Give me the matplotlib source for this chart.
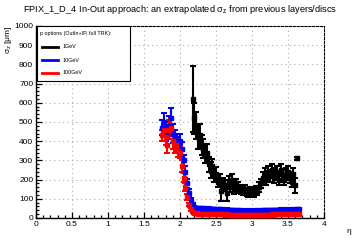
import numpy as np
import matplotlib
matplotlib.use("Agg")
import matplotlib.pyplot as plt
from matplotlib.patches import Rectangle
from matplotlib.lines import Line2D

plt.rcParams['font.family'] = ['Liberation Sans', 'DejaVu Sans']
plt.rcParams['mathtext.fontset'] = 'custom'
plt.rcParams['mathtext.rm'] = 'Liberation Sans'
plt.rcParams['mathtext.it'] = 'Liberation Sans'

# eta bin centres
eta = [1.750, 1.775, 1.800, 1.825, 1.850, 1.875, 1.900, 1.925, 1.950, 1.975,
       2.000, 2.025, 2.050, 2.075, 2.100, 2.125, 2.150, 2.175, 2.200, 2.225,
       2.250, 2.275, 2.300, 2.325, 2.350, 2.375, 2.400, 2.425, 2.450, 2.475,
       2.500, 2.525, 2.550, 2.575, 2.600, 2.625, 2.650, 2.675, 2.700, 2.725,
       2.750, 2.775, 2.800, 2.825, 2.850, 2.875, 2.900, 2.925, 2.950, 2.975,
       3.000, 3.025, 3.050, 3.075, 3.100, 3.125, 3.150, 3.175, 3.200, 3.225,
       3.250, 3.275, 3.300, 3.325, 3.350, 3.375, 3.400, 3.425, 3.450, 3.475,
       3.500, 3.525, 3.550, 3.575, 3.600, 3.625, 3.650]

# 1 GeV (starts at eta=2.175, ends at 3.625)
sig_1 = [620, 520, 480, 420, 430, 380, 360, 330, 340, 280,
         250, 270, 220, 230, 190, 200, 140, 180, 170, 130,
         190, 160, 200, 150, 180, 160, 150, 145, 140, 150,
         135, 130, 140, 135, 130, 145, 140, 160, 180, 210,
         230, 200, 240, 220, 250, 210, 230, 240, 200, 250,
         220, 200, 230, 240, 210, 190, 230, 170, 310]
err_1 = [170, 80, 70, 60, 60, 50, 50, 45, 45, 40,
         40, 35, 35, 35, 30, 30, 50, 30, 30, 40,
         30, 25, 30, 25, 25, 25, 20, 20, 20, 20,
         20, 20, 20, 20, 20, 20, 20, 25, 25, 30,
         30, 30, 30, 30, 30, 30, 30, 30, 30, 30,
         30, 30, 30, 30, 30, 30, 30, 40, 10]

# 10 GeV
sig_10 = [470, 500, 450, 420, 480, 520, 440, 420, 400, 380,
          400, 360, 300, 240, 180, 130, 90, 65, 55, 50,
          52, 50, 48, 50, 49, 47, 48, 46, 47, 45,
          46, 44, 45, 43, 44, 42, 43, 41, 42, 40,
          41, 39, 40, 38, 39, 38, 37, 38, 37, 38,
          37, 38, 38, 39, 38, 39, 40, 39, 40, 41,
          40, 41, 42, 41, 42, 42, 43, 42, 43, 42,
          43, 42, 43, 44, 44, 45, 46]
err_10 = [40, 45, 50, 40, 50, 55, 50, 40, 40, 40,
          40, 35, 30, 30, 25, 20, 15, 12, 10, 8,
          7, 7, 7, 7, 7, 7, 7, 7, 7, 7,
          7, 7, 7, 7, 7, 7, 7, 7, 7, 7,
          7, 7, 7, 7, 7, 7, 7, 7, 7, 7,
          7, 7, 7, 7, 7, 7, 7, 7, 7, 7,
          7, 7, 7, 7, 7, 7, 7, 7, 7, 7,
          7, 7, 7, 7, 7, 8, 8]

# 100 GeV
sig_100 = [430, 460, 420, 380, 460, 470, 400, 370, 380, 350,
           340, 270, 210, 160, 110, 70, 45, 32, 26, 24,
           23, 22, 23, 22, 21, 22, 21, 20, 21, 20,
           20, 19, 20, 19, 19, 18, 19, 18, 18, 18,
           17, 18, 17, 17, 18, 17, 17, 17, 16, 17,
           17, 16, 17, 17, 17, 18, 17, 18, 18, 18,
           18, 19, 18, 19, 19, 19, 20, 19, 20, 20,
           20, 20, 21, 20, 21, 21, 22]
err_100 = [30, 40, 40, 40, 50, 45, 40, 30, 30, 30,
           30, 30, 25, 20, 15, 10, 7, 6, 5, 5,
           5, 5, 5, 5, 5, 5, 5, 5, 5, 5,
           5, 5, 5, 5, 5, 5, 5, 5, 5, 5,
           5, 5, 5, 5, 5, 5, 5, 5, 5, 5,
           5, 5, 5, 5, 5, 5, 5, 5, 5, 5,
           5, 5, 5, 5, 5, 5, 5, 5, 5, 5,
           5, 5, 5, 5, 5, 5, 5]

labels = ["1GeV", "10GeV", "100GeV"]
colors = ["black", "blue", "red"]

W, H = 360, 240
fig = plt.figure(figsize=(W / 100, H / 100), dpi=100)
ax = fig.add_axes([36 / W, 22 / H, 288 / W, 192 / H])

def px(x, y):
    return (x / W, 1 - y / H)

eta_1 = eta[17:76]
series = [(eta_1, sig_1, err_1), (eta, sig_10, err_10), (eta, sig_100, err_100)]
for (x, y, e), c in zip(series, colors):
    ax.errorbar(x, y, yerr=e, fmt='s', ms=3.2, color=c, ecolor=c,
                elinewidth=1.5, capsize=2, capthick=1.5, lw=0, zorder=3)

ax.set_xlim(0, 4)
ax.set_ylim(0, 1000)
ax.set_xticks(np.arange(0, 4.01, 0.5))
ax.set_xticks(np.arange(0, 4.01, 0.1), minor=True)
ax.set_yticks(np.arange(0, 1001, 100))
ax.set_yticks(np.arange(0, 1001, 20), minor=True)
ax.set_xticklabels(["0", "0.5", "1", "1.5", "2", "2.5", "3", "3.5", "4"])
ax.grid(True, which='major', color='#aaaaaa', linestyle=(0, (1, 3)), linewidth=0.8)
ax.tick_params(which='major', direction='in', length=4, width=0.9, labelsize=6,
               pad=2, top=False, right=False)
ax.tick_params(which='minor', direction='in', length=2, width=0.9, top=False, right=False)
for s in ['left', 'bottom']:
    ax.spines[s].set_linewidth(1.0)
for s in ['top', 'right']:
    ax.spines[s].set_linestyle((0, (2, 1.5)))
    ax.spines[s].set_linewidth(0.8)

fig.text(0.5, 1 - 10 / H,
         r"FPIX_1_D_4 In-Out approach: an extrapolated $\sigma_z$ from previous layers/discs",
         ha='center', va='center', fontsize=6.7)
fig.text(*px(9, 25), r"$\sigma_z$ [$\mu$m]", rotation=90, ha='center', va='top', fontsize=6)
fig.text(*px(349, 232), r"$\eta$", ha='center', va='center', fontsize=6)

# legend box
fig.patches.append(Rectangle(px(37, 81), 93 / W, 55 / H, transform=fig.transFigure,
                             facecolor='white', edgecolor='black', lw=0.8, zorder=5))
fig.text(*px(40, 34), "p options (OutIn+IP, full TRK):", fontsize=3.9, va='center',
         ha='left', zorder=6)
for i, (lab, c) in enumerate(zip(labels, colors)):
    yy = [47, 60, 73][i]
    x0, y0 = px(42, yy)
    x1, _ = px(58, yy)
    fig.lines.append(Line2D([x0, x1], [y0, y0], transform=fig.transFigure,
                            color=c, lw=2.0, zorder=6))
    fig.text(*px(63, yy), lab, fontsize=3.9, va='center', ha='left', zorder=6)

fig.savefig("out.png", dpi=100)
